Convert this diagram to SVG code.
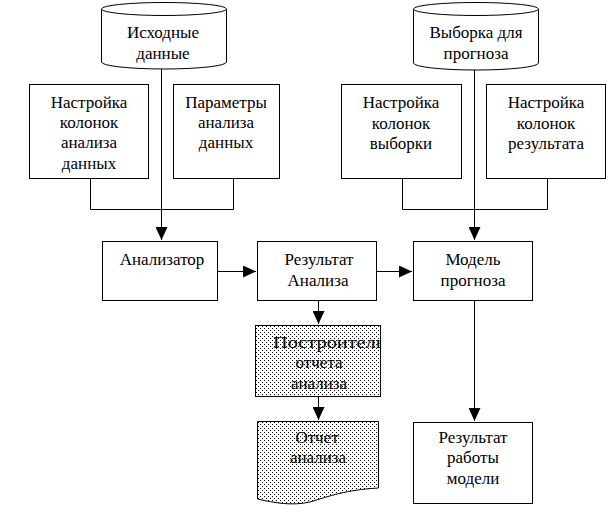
<svg xmlns="http://www.w3.org/2000/svg" width="613" height="517" viewBox="0 0 613 517">
<style>
.box{fill:#fff;stroke:#000;stroke-width:1}
.dot{fill:url(#dots);stroke:#000;stroke-width:1}
.ln{fill:none;stroke:#000;stroke-width:1}
text{font-family:"Liberation Serif","Times New Roman",serif;font-size:17px;fill:#000;text-anchor:middle}
</style>
<defs>
<pattern id="dots" width="4" height="4" patternUnits="userSpaceOnUse">
<rect width="4" height="4" fill="#fff"/>
<rect x="0" y="0" width="1" height="1" fill="#000"/>
<rect x="2" y="2" width="1" height="1" fill="#000"/>
</pattern>
<marker id="arr" markerWidth="13" markerHeight="12" refX="13" refY="6" orient="auto" markerUnits="userSpaceOnUse">
<path d="M0,0 L13,6 L0,12 Z" fill="#000"/>
</marker>
<clipPath id="cpB"><rect x="256" y="326" width="124" height="70"/></clipPath>
</defs>

<g id="connectors">
<path class="ln" d="M161.5,69 V240" marker-end="url(#arr)"/>
<path class="ln" d="M90.5,178 V209.5 H233.5 V178"/>
<path class="ln" d="M474.5,70 V240" marker-end="url(#arr)"/>
<path class="ln" d="M402.5,178 V209.5 H547.5 V178"/>
<path class="ln" d="M217,271.5 H256" marker-end="url(#arr)"/>
<path class="ln" d="M376,271.5 H412" marker-end="url(#arr)"/>
<path class="ln" d="M318.5,300 V324" marker-end="url(#arr)"/>
<path class="ln" d="M318.5,396 V420" marker-end="url(#arr)"/>
<path class="ln" d="M474.5,300 V421" marker-end="url(#arr)"/>
</g>

<g id="src1">
<path class="box" d="M101.5,9 V62 A62.5,7 0 0 0 226.5,62 V9"/>
<ellipse class="box" cx="164" cy="9" rx="62.5" ry="6.5"/>
<text x="163" y="38">Исходные</text>
<text x="163" y="59">данные</text>
</g>

<g id="src2">
<path class="box" d="M413.5,9 V63 A62.5,7 0 0 0 538.5,63 V9"/>
<ellipse class="box" cx="476" cy="9" rx="62.5" ry="6.5"/>
<text x="476" y="38">Выборка для</text>
<text x="476" y="59">прогноза</text>
</g>

<g id="cfg1">
<rect class="box" x="29.5" y="84.5" width="119" height="94"/>
<text x="89" y="108">Настройка</text>
<text x="89" y="128">колонок</text>
<text x="89" y="148">анализа</text>
<text x="89" y="169">данных</text>
</g>

<g id="params">
<rect class="box" x="173.5" y="84.5" width="106" height="94"/>
<text x="226" y="108">Параметры</text>
<text x="226" y="128">анализа</text>
<text x="226" y="148">данных</text>
</g>

<g id="cfg2">
<rect class="box" x="341.5" y="84.5" width="120" height="94"/>
<text x="401" y="108">Настройка</text>
<text x="401" y="129">колонок</text>
<text x="401" y="149">выборки</text>
</g>

<g id="cfg3">
<rect class="box" x="486.5" y="84.5" width="119" height="94"/>
<text x="546" y="108">Настройка</text>
<text x="546" y="129">колонок</text>
<text x="546" y="149">результата</text>
</g>

<g id="analyzer">
<rect class="box" x="102.5" y="241.5" width="115" height="59"/>
<text x="162" y="265">Анализатор</text>
</g>

<g id="result">
<rect class="box" x="257.5" y="241.5" width="119" height="59"/>
<text x="319" y="265">Результат</text>
<text x="318" y="286">Анализа</text>
</g>

<g id="model">
<rect class="box" x="413.5" y="241.5" width="119" height="59"/>
<text x="473" y="265">Модель</text>
<text x="473" y="286">прогноза</text>
</g>

<g id="builder">
<rect class="dot" x="255.5" y="325.5" width="125" height="71"/>
<g clip-path="url(#cpB)">
<text x="273" y="348" style="text-anchor:start" textLength="112" lengthAdjust="spacingAndGlyphs">Построитель</text>
</g>
<text x="319" y="368">отчета</text>
<text x="319" y="389">анализа</text>
</g>

<g id="report">
<path class="dot" d="M257.5,421.5 H378.5 V488 C345,490 330,496 310,502 C292,506 275,503 257.5,499 Z"/>
<text x="317" y="443">Отчет</text>
<text x="318" y="463">анализа</text>
</g>

<g id="modelresult">
<rect class="box" x="413.5" y="422.5" width="119" height="81"/>
<text x="473" y="443">Результат</text>
<text x="473" y="463">работы</text>
<text x="473" y="484">модели</text>
</g>
</svg>
